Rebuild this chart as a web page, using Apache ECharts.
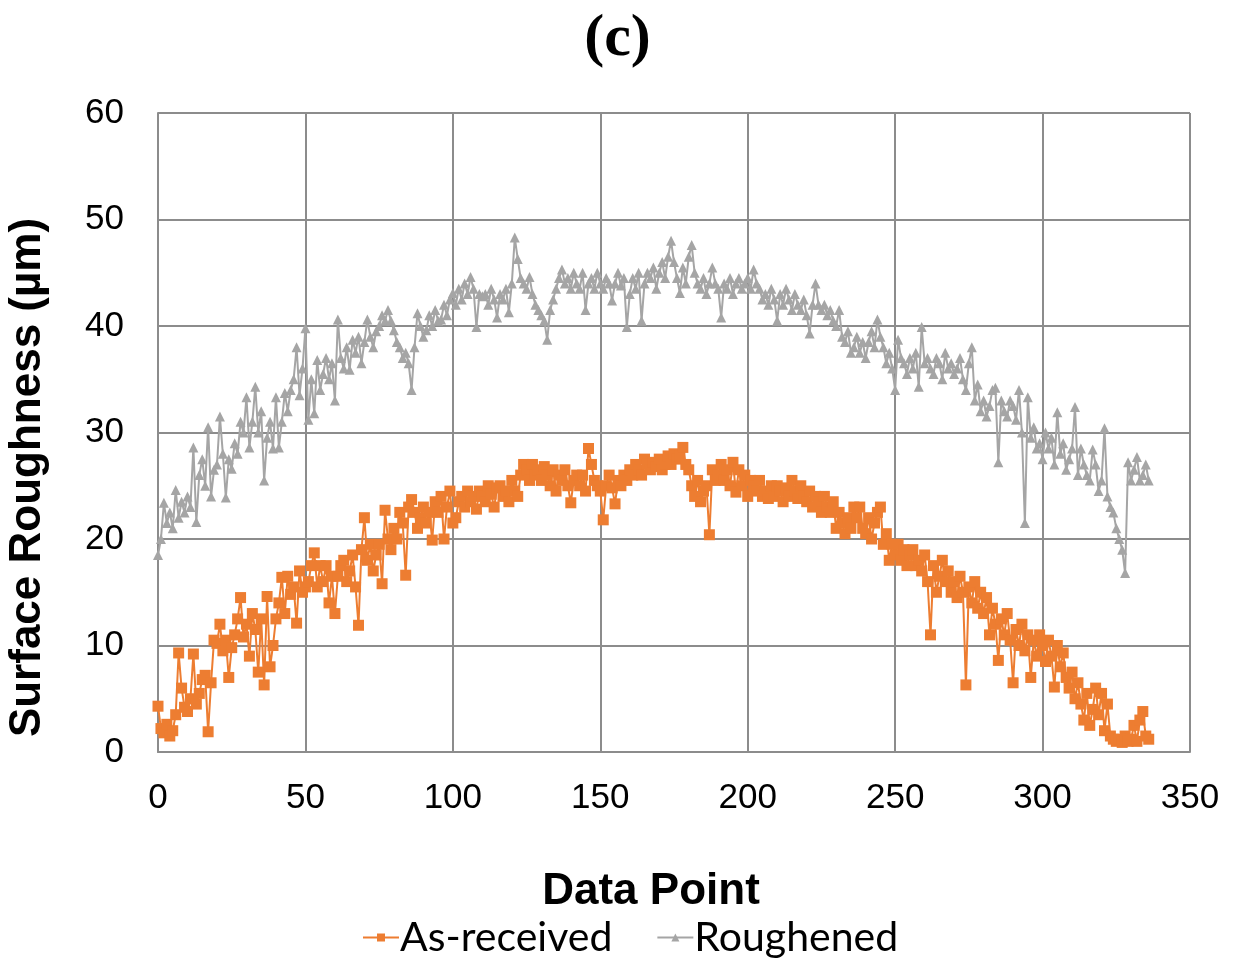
<!DOCTYPE html>
<html>
<head>
<meta charset="utf-8">
<title>Surface Roughness</title>
<script src="https://cdn.jsdelivr.net/npm/echarts@6/dist/echarts.min.js"></script>
<style>
  html, body { margin: 0; padding: 0; background: #ffffff; }
  #chart { width: 1235px; height: 963px; }
</style>
</head>
<body>
<div id="chart"></div>
<script>
// Surface roughness (µm) measured at each data point along the profile
const seriesNames = ['As-received', 'Roughened'];

const asReceived = [
  4.3, 2.2, 1.8, 2.6, 1.5, 2.0, 3.5, 9.3, 6.0, 4.2,
  3.8, 5.0, 9.2, 4.5, 5.5, 6.8, 7.2, 1.9, 6.5, 10.5,
  10.2, 12.0, 9.5, 10.5, 7.0, 9.8, 11.0, 12.5, 14.5, 10.8,
  12.0, 9.0, 13.0, 11.5, 7.5, 12.5, 6.3, 14.6, 8.0, 10.0,
  12.5, 14.0, 16.4, 13.0, 16.5, 14.8, 15.5, 12.1, 17.0, 15.0,
  15.5, 16.0, 17.5, 18.7, 15.5, 17.5, 16.0, 17.5, 14.0, 16.5,
  13.0, 16.5, 17.5, 18.0, 16.0, 17.0, 18.5, 15.5, 11.9, 19.0,
  22.0, 18.0, 19.5, 17.0, 18.5, 19.5, 15.8, 22.7, 20.0, 19.0,
  21.0, 20.0, 22.5, 21.5, 16.6, 23.0, 23.7, 22.5, 21.0, 22.0,
  23.0, 21.5, 22.5, 19.9, 23.5, 22.5, 24.0, 20.0, 23.0, 24.5,
  21.5, 22.0, 23.5, 24.0, 23.0, 24.5, 23.5, 24.0, 22.8, 24.5,
  24.0, 23.5, 25.0, 24.2, 23.0, 24.8, 25.0, 24.0, 24.5, 23.5,
  25.5, 24.5, 24.0, 26.0, 27.0, 26.5, 25.5, 27.0, 26.0, 26.5,
  25.5, 26.8, 26.0, 25.0, 26.5, 24.5, 26.0, 25.5, 26.5, 25.0,
  23.4, 25.5, 26.0, 25.0, 26.0, 24.5, 28.5, 27.0, 25.5, 25.0,
  24.5, 21.8, 25.0, 26.0, 24.8, 23.3, 25.5, 25.0, 26.0, 25.5,
  26.5, 26.0, 27.0, 26.5, 26.0, 27.5, 27.0, 26.5, 27.2, 26.8,
  27.5, 26.5, 27.0, 27.8, 27.0, 28.0, 27.5, 27.8, 28.6, 27.0,
  26.5, 25.0, 24.0, 25.5, 23.5, 24.5, 25.0, 20.4, 26.5, 25.5,
  26.0, 27.0, 25.5, 26.5, 25.0, 27.2, 24.4, 26.5, 25.0, 26.0,
  24.0, 25.5, 25.0, 24.5, 25.5, 24.0, 24.5, 23.8, 25.0, 24.0,
  25.0, 24.5, 23.5, 24.8, 24.0, 25.5, 24.5, 23.8, 25.0, 24.0,
  23.5, 24.5, 23.0, 24.0, 23.5, 22.5, 24.0, 23.0, 22.5, 23.5,
  21.0, 22.5, 21.5, 20.5, 22.0, 21.0, 23.0, 22.0, 23.0, 21.0,
  20.5, 22.0, 20.0, 21.5, 22.5, 23.0, 19.5, 20.5, 18.0, 19.5,
  18.5, 19.5, 18.0, 19.0, 17.5, 18.5, 19.0, 17.5, 18.0, 17.0,
  18.5, 16.0, 11.0, 17.5, 15.0, 16.5, 18.0, 16.0, 17.0, 15.0,
  16.0, 14.5, 16.5, 15.0, 6.3, 15.5, 14.0, 16.0, 13.5, 15.0,
  13.0, 14.5, 11.0, 13.5, 12.0, 8.6, 12.5, 11.0, 13.0, 10.5,
  6.5, 11.5, 10.0, 12.0, 9.5, 11.0, 7.0, 10.5, 9.0, 11.0,
  10.0, 8.5, 10.5, 9.0, 6.1, 10.0, 8.0, 9.3, 7.0, 6.0,
  7.5, 5.0, 6.5, 4.5, 3.0, 5.5, 2.5, 4.0, 6.0, 3.5,
  5.5, 2.0, 4.5, 1.5, 1.2, 1.0, 1.2, 0.9, 1.5, 1.0,
  1.2, 2.5, 1.0, 3.0, 3.8, 1.5, 1.2
];

const roughened = [
  18.5, 20.0, 23.4, 21.5, 22.5, 21.0, 24.6, 22.0, 23.5, 22.5,
  24.0, 23.0, 28.6, 21.6, 26.0, 27.5, 25.0, 30.5, 24.0, 26.5,
  27.0, 31.5, 28.0, 23.9, 27.5, 26.6, 29.0, 28.0, 31.0, 30.0,
  33.3, 28.6, 31.0, 34.3, 30.0, 32.0, 25.5, 29.5, 31.0, 28.5,
  33.3, 28.6, 31.0, 33.7, 32.0, 34.0, 35.0, 38.0, 33.5, 36.0,
  39.8, 31.2, 35.0, 31.8, 36.8, 34.0, 35.5, 37.0, 35.0, 36.5,
  33.0, 40.6, 37.0, 36.0, 38.0, 35.9, 38.7, 37.5, 39.0, 36.5,
  38.5, 40.6, 39.0, 38.0, 39.5, 40.0, 41.0, 40.5, 41.5, 40.5,
  39.6, 38.5, 38.0, 37.0, 37.5, 36.5, 34.0, 38.0, 41.2, 40.0,
  39.0, 39.6, 41.0, 40.0, 41.5, 40.5, 40.6, 42.0, 41.0, 42.5,
  43.1, 42.0, 43.5, 42.5, 44.0, 43.0, 44.6, 43.5, 39.9, 43.0,
  42.8, 43.0, 42.0, 43.5, 42.5, 40.8, 43.0, 42.5, 43.5, 41.3,
  44.0, 48.3, 46.3, 44.5, 44.0, 43.5, 44.6, 43.0, 42.0, 41.5,
  41.0, 40.5, 38.7, 41.5, 42.5, 43.5, 44.5, 45.3, 44.0, 44.5,
  43.5, 45.0, 44.0, 43.5, 45.0, 41.5, 44.0, 44.5, 43.5, 45.0,
  44.0, 43.5, 44.5, 44.0, 42.4, 44.0, 45.0, 43.8, 44.5, 39.9,
  43.0, 44.5, 43.5, 45.0, 40.5, 44.0, 45.0, 44.5, 45.5, 43.5,
  45.0, 46.0, 44.5, 46.5, 48.0, 46.0, 44.5, 43.1, 45.5, 44.0,
  46.5, 47.6, 45.0, 44.0, 43.5, 44.5, 43.0, 44.0, 45.5, 44.0,
  43.5, 40.8, 44.0, 43.5, 44.5, 43.0, 44.0, 44.5, 43.5, 44.0,
  44.5, 43.5, 45.3, 44.0, 43.5, 42.5, 43.0, 42.0, 43.5, 42.5,
  40.5, 43.0, 42.0, 43.5, 42.5, 41.5, 43.0, 42.0, 41.5, 42.5,
  41.0, 39.3, 42.0, 44.0, 42.0, 41.5, 42.0, 41.0, 41.5, 40.5,
  40.0, 41.5, 39.0, 38.5, 39.5, 37.5, 38.0, 39.0, 37.5, 38.5,
  37.0, 38.5, 39.5, 38.0, 40.6, 39.0, 38.0, 36.5, 37.5, 36.0,
  34.0, 38.7, 37.0, 36.5, 35.5, 37.0, 36.0, 37.5, 34.3, 39.9,
  36.5, 37.0, 36.0, 35.5, 37.0, 36.5, 35.0, 37.5, 36.0, 36.5,
  35.5, 36.0, 37.0, 35.0, 34.0, 36.5, 38.0, 33.0, 34.5, 32.0,
  33.0, 31.5, 32.5, 34.0, 34.2, 27.2, 33.0, 32.0, 31.5, 33.0,
  32.5, 31.2, 34.0, 30.0, 21.5, 33.3, 29.5, 30.5, 28.5, 29.0,
  27.5, 30.0, 28.5, 29.5, 27.0, 31.9, 28.0, 29.0, 26.5, 27.5,
  28.5, 32.4, 26.0, 28.5, 27.0, 26.0, 25.5, 28.4, 27.0, 24.5,
  25.5, 30.4, 24.0, 23.0, 22.5, 21.0, 20.0, 19.0, 16.8, 27.2,
  25.5, 26.5, 27.7, 25.5, 26.0, 27.0, 25.5
];

// Axis ticks
const xTicks = [0, 50, 100, 150, 200, 250, 300, 350];
const yTicks = [0, 10, 20, 30, 40, 50, 60];

const colors = ['#ED7D31', '#A5A5A5'];

// Pair each reading with its data point index
const toPoints = arr => arr.map((v, i) => [i, v]);

const chart = echarts.init(document.getElementById('chart'), null, { renderer: 'canvas' });

const gridColor = '#8c8c8c';
const sansFont = '"Liberation Sans", Arial, sans-serif';

chart.setOption({
  backgroundColor: '#ffffff',
  animation: false,
  title: {
    text: '(c)',
    left: 'center',
    top: 4,
    textStyle: {
      fontFamily: '"Liberation Serif", "DejaVu Serif", serif',
      fontWeight: 'bold',
      fontSize: 60,
      color: '#000000'
    }
  },
  legend: {
    bottom: 0,
    left: 357,
    itemWidth: 36,
    itemHeight: 10,
    itemGap: 44,
    data: seriesNames,
    textStyle: {
      fontFamily: 'Lato, "Open Sans", sans-serif',
      fontSize: 41,
      color: '#000000',
      padding: [0, 0, 0, -4]
    }
  },
  grid: {
    left: 158,
    right: 45,
    top: 113,
    bottom: 211,
    containLabel: false,
    outerBoundsMode: 'none'
  },
  xAxis: {
    type: 'value',
    min: xTicks[0],
    max: xTicks[xTicks.length - 1],
    interval: 50,
    name: 'Data Point',
    nameLocation: 'middle',
    nameGap: 118,
    nameTextStyle: {
      fontFamily: sansFont,
      fontWeight: 'bold',
      fontSize: 44,
      color: '#000000',
      padding: [0, 46, 0, 0]
    },
    axisLine: { show: true, lineStyle: { color: gridColor, width: 2 } },
    axisTick: { show: false },
    splitLine: { show: true, lineStyle: { color: gridColor, width: 2 } },
    axisLabel: {
      margin: 29,
      fontFamily: sansFont,
      fontSize: 35,
      color: '#000000'
    }
  },
  yAxis: {
    type: 'value',
    min: yTicks[0],
    max: yTicks[yTicks.length - 1],
    interval: 10,
    name: 'Surface Roughness (µm)',
    nameLocation: 'middle',
    nameGap: 108,
    nameTextStyle: {
      fontFamily: sansFont,
      fontWeight: 'bold',
      fontSize: 44,
      color: '#000000',
      padding: [0, 90, 0, 0]
    },
    axisLine: { show: true, lineStyle: { color: gridColor, width: 2 } },
    axisTick: { show: false },
    splitLine: { show: true, lineStyle: { color: gridColor, width: 2 } },
    axisLabel: {
      margin: 34,
      fontFamily: sansFont,
      fontSize: 35,
      color: '#000000'
    }
  },
  series: [
    {
      name: seriesNames[0],
      type: 'line',
      data: toPoints(asReceived),
      symbol: 'rect',
      symbolSize: 11,
      showAllSymbol: true,
      itemStyle: { color: colors[0] },
      lineStyle: { color: colors[0], width: 2 },
      z: 3
    },
    {
      name: seriesNames[1],
      type: 'line',
      data: toPoints(roughened),
      symbol: 'triangle',
      symbolSize: 10,
      showAllSymbol: true,
      itemStyle: { color: colors[1] },
      lineStyle: { color: colors[1], width: 2 },
      z: 2
    }
  ]
});
</script>
</body>
</html>
